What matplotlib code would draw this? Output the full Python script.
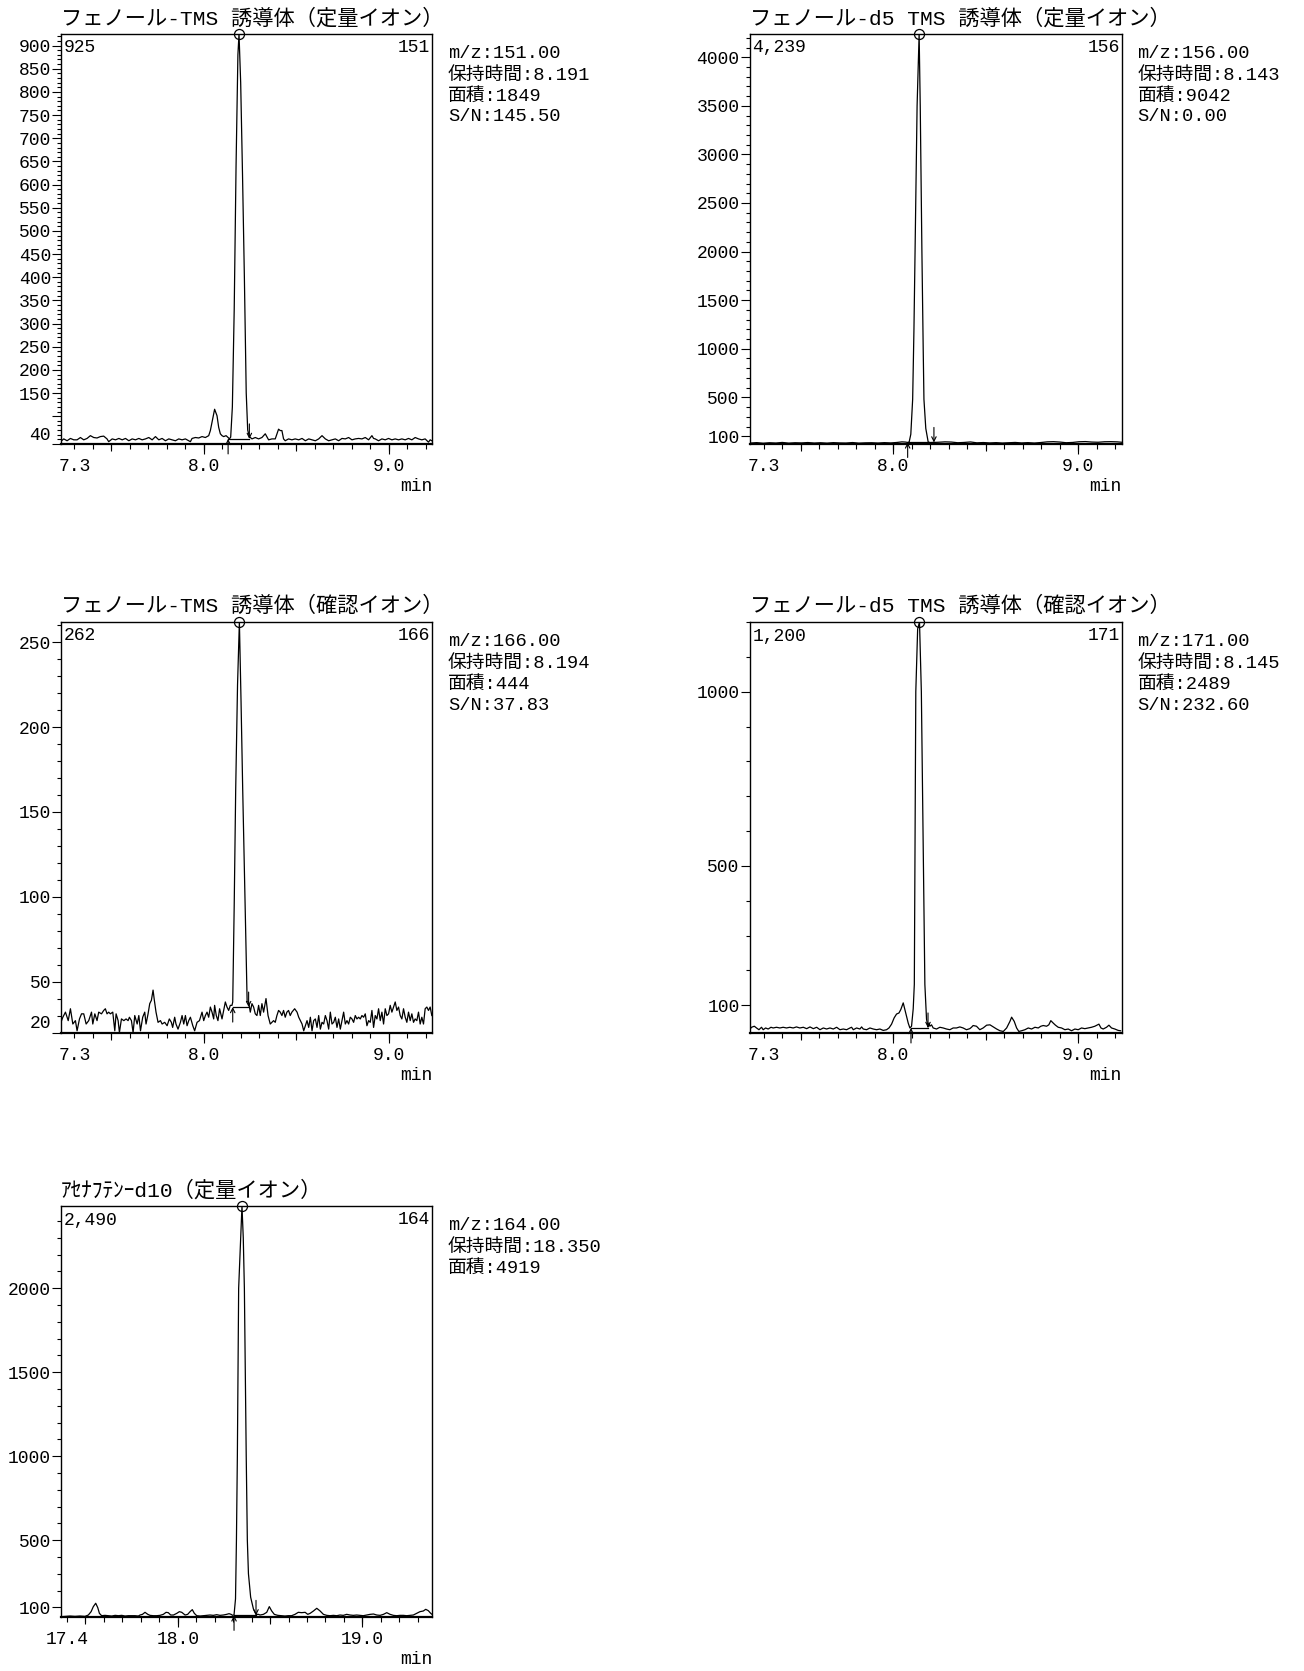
import matplotlib
matplotlib.use("Agg")
import matplotlib.pyplot as plt
from matplotlib.ticker import MultipleLocator

plt.rcParams["font.family"] = ["Liberation Mono", "Noto Sans CJK JP"]
plt.rcParams["axes.unicode_minus"] = False

FIG_W, FIG_H, DPI = 1304, 1671, 100

# ---------------------------------------------------------------- panel 1
p1_title = "フェノール-TMS 誘導体（定量イオン）"
p1_mz = "151"
p1_info = ["m/z:151.00", "保持時間:8.191", "面積:1849", "S/N:145.50"]
p1_time = [7.231, 7.243, 7.261, 7.279, 7.297, 7.315, 7.333, 7.351, 7.369, 7.387,
           7.405, 7.423, 7.441, 7.459, 7.477, 7.486, 7.505, 7.523, 7.541, 7.559,
           7.577, 7.595, 7.613, 7.631, 7.649, 7.667, 7.685, 7.703, 7.721, 7.739,
           7.757, 7.775, 7.793, 7.811, 7.829, 7.847, 7.865, 7.883, 7.901, 7.919,
           7.928, 7.937, 7.955, 7.973, 7.991, 8.009, 8.027, 8.036, 8.045, 8.059,
           8.072, 8.081, 8.090, 8.099, 8.108, 8.121, 8.132, 8.139, 8.146, 8.155,
           8.165, 8.175, 8.185, 8.191, 8.200, 8.210, 8.220, 8.230, 8.238, 8.247,
           8.261, 8.279, 8.297, 8.315, 8.333, 8.351, 8.369, 8.387, 8.405, 8.414,
           8.423, 8.432, 8.441, 8.459, 8.477, 8.495, 8.514, 8.532, 8.550, 8.568,
           8.586, 8.604, 8.622, 8.640, 8.658, 8.676, 8.694, 8.712, 8.730, 8.748,
           8.766, 8.784, 8.802, 8.820, 8.838, 8.856, 8.874, 8.892, 8.910, 8.919,
           8.928, 8.946, 8.964, 8.982, 9.000, 9.018, 9.036, 9.054, 9.072, 9.090,
           9.108, 9.126, 9.144, 9.162, 9.180, 9.198, 9.216, 9.225, 9.234]
p1_abund = [47, 51, 47, 52, 49, 49, 54, 49, 52, 58,
            54, 53, 56, 57, 51, 45, 51, 49, 52, 49,
            52, 47, 51, 49, 52, 49, 51, 54, 49, 56,
            49, 52, 47, 51, 49, 47, 51, 49, 51, 47,
            45, 52, 54, 53, 56, 54, 58, 69, 87, 115,
            101, 76, 62, 58, 56, 58, 54, 51, 55, 120,
            330, 640, 880, 925, 820, 620, 400, 150, 70, 56,
            51, 54, 51, 54, 62, 49, 51, 51, 72, 69,
            69, 51, 47, 51, 49, 51, 49, 52, 47, 51,
            49, 47, 51, 58, 51, 47, 49, 51, 47, 52,
            51, 54, 49, 51, 52, 51, 54, 49, 58, 52,
            51, 47, 51, 49, 52, 49, 51, 49, 51, 49,
            52, 49, 54, 51, 49, 51, 44, 49, 47]
p1_peak = (8.132, 8.247, 51)          # integration start, end, baseline level
p1_xlim = (7.228, 9.235)
p1_ylim = (40, 925)
p1_yticks = [40, 100, 150, 200, 250, 300, 350, 400, 450, 500, 550, 600, 650, 700, 750, 800, 850, 900]
p1_yticklabels = ["40", "", "150", "200", "250", "300", "350", "400", "450", "500",
                  "550", "600", "650", "700", "750", "800", "850", "900"]
p1_yminor = 10

# ---------------------------------------------------------------- panel 2
p2_title = "フェノール-d5 TMS 誘導体（定量イオン）"
p2_mz = "156"
p2_info = ["m/z:156.00", "保持時間:8.143", "面積:9042", "S/N:0.00"]
p2_time = [7.228, 7.262, 7.297, 7.331, 7.366, 7.400, 7.435, 7.469, 7.504, 7.538,
           7.573, 7.607, 7.642, 7.676, 7.711, 7.745, 7.780, 7.814, 7.849, 7.883,
           7.918, 7.952, 7.987, 8.021, 8.047, 8.066, 8.078, 8.086, 8.095, 8.105,
           8.112, 8.118, 8.129, 8.140, 8.146, 8.155, 8.162, 8.166, 8.176, 8.189,
           8.200, 8.220, 8.245, 8.280, 8.314, 8.349, 8.383, 8.418, 8.452, 8.487,
           8.521, 8.556, 8.590, 8.625, 8.659, 8.694, 8.728, 8.763, 8.797, 8.832,
           8.866, 8.901, 8.935, 8.970, 9.004, 9.039, 9.073, 9.108, 9.142, 9.177,
           9.211, 9.235]
p2_abund = [30, 34, 28, 33, 30, 36, 29, 33, 31, 35,
            30, 33, 29, 34, 31, 30, 35, 29, 32, 33,
            30, 34, 31, 36, 42, 40, 36, 40, 120, 480,
            1200, 2000, 3500, 4239, 3500, 2000, 1000, 480, 180, 40,
            34, 36, 38, 42, 40, 33, 36, 41, 32, 35,
            31, 34, 30, 33, 36, 31, 34, 30, 35, 42,
            44, 40, 33, 36, 43, 45, 40, 38, 43, 44,
            42, 38]
p2_peak = (8.078, 8.220, 36)
p2_xlim = (7.223, 9.234)
p2_ylim = (20, 4239)
p2_yticks = [100, 500, 1000, 1500, 2000, 2500, 3000, 3500, 4000]
p2_yticklabels = ["100", "500", "1000", "1500", "2000", "2500", "3000", "3500", "4000"]
p2_yminor = 100

# ---------------------------------------------------------------- panel 3
p3_title = "フェノール-TMS 誘導体（確認イオン）"
p3_mz = "166"
p3_info = ["m/z:166.00", "保持時間:8.194", "面積:444", "S/N:37.83"]
p3_time = [7.231, 7.238, 7.252, 7.267, 7.279, 7.292, 7.306, 7.315, 7.328, 7.339,
           7.351, 7.364, 7.378, 7.393, 7.400, 7.411, 7.423, 7.432, 7.447, 7.459,
           7.468, 7.477, 7.486, 7.495, 7.508, 7.519, 7.526, 7.537, 7.544, 7.555,
           7.568, 7.580, 7.591, 7.598, 7.609, 7.618, 7.627, 7.640, 7.649, 7.658,
           7.670, 7.681, 7.688, 7.699, 7.708, 7.717, 7.726, 7.733, 7.742, 7.753,
           7.766, 7.775, 7.789, 7.802, 7.814, 7.825, 7.832, 7.843, 7.850, 7.861,
           7.874, 7.883, 7.892, 7.901, 7.910, 7.919, 7.928, 7.941, 7.951, 7.964,
           7.977, 7.991, 8.000, 8.009, 8.018, 8.027, 8.036, 8.045, 8.054, 8.059,
           8.068, 8.077, 8.086, 8.099, 8.108, 8.117, 8.126, 8.135, 8.144, 8.153,
           8.157, 8.165, 8.173, 8.183, 8.193, 8.202, 8.211, 8.223, 8.235, 8.243,
           8.252, 8.261, 8.270, 8.279, 8.288, 8.297, 8.306, 8.315, 8.324, 8.337,
           8.348, 8.360, 8.369, 8.378, 8.387, 8.396, 8.405, 8.414, 8.423, 8.432,
           8.441, 8.450, 8.459, 8.468, 8.477, 8.492, 8.505, 8.514, 8.523, 8.532,
           8.541, 8.550, 8.559, 8.568, 8.577, 8.586, 8.595, 8.604, 8.613, 8.622,
           8.631, 8.640, 8.649, 8.658, 8.667, 8.676, 8.685, 8.694, 8.703, 8.712,
           8.721, 8.730, 8.739, 8.748, 8.757, 8.766, 8.775, 8.784, 8.793, 8.802,
           8.811, 8.820, 8.829, 8.838, 8.847, 8.856, 8.865, 8.874, 8.883, 8.892,
           8.901, 8.910, 8.919, 8.928, 8.937, 8.946, 8.955, 8.964, 8.973, 8.982,
           8.991, 9.000, 9.009, 9.018, 9.027, 9.036, 9.045, 9.054, 9.063, 9.072,
           9.081, 9.090, 9.099, 9.108, 9.117, 9.126, 9.135, 9.144, 9.153, 9.162,
           9.171, 9.180, 9.189, 9.198, 9.207, 9.216, 9.225, 9.234]
p3_abund = [27, 29, 32, 27, 34, 25, 27, 21, 28, 31,
            31, 25, 27, 32, 25, 31, 27, 32, 31, 33,
            34, 31, 32, 31, 32, 21, 31, 27, 20, 28,
            27, 28, 27, 29, 27, 20, 30, 25, 30, 21,
            29, 32, 25, 31, 37, 39, 45, 39, 32, 26,
            27, 25, 26, 24, 28, 26, 23, 29, 25, 22,
            26, 30, 25, 30, 24, 27, 29, 24, 21, 26,
            27, 32, 27, 30, 32, 29, 35, 32, 28, 36,
            30, 27, 34, 28, 33, 38, 35, 33, 36, 36,
            38, 95, 163, 225, 262, 215, 163, 100, 38, 38,
            32, 37, 35, 31, 30, 36, 30, 37, 32, 40,
            30, 25, 26, 27, 26, 30, 33, 32, 30, 33,
            29, 32, 33, 30, 32, 34, 32, 29, 27, 25,
            21, 24, 27, 23, 29, 21, 27, 28, 23, 30,
            22, 26, 25, 30, 27, 22, 32, 25, 26, 29,
            23, 28, 22, 27, 32, 25, 27, 25, 29, 28,
            26, 30, 28, 29, 28, 30, 29, 31, 24, 27,
            26, 33, 23, 30, 28, 34, 27, 32, 25, 34,
            30, 31, 36, 32, 35, 38, 33, 35, 30, 28,
            34, 29, 26, 32, 27, 31, 26, 28, 27, 32,
            25, 29, 25, 34, 35, 33, 35, 30]
p3_peak = (8.157, 8.243, 35)
p3_xlim = (7.228, 9.235)
p3_ylim = (20, 262)
p3_yticks = [20, 50, 100, 150, 200, 250]
p3_yticklabels = ["20", "50", "100", "150", "200", "250"]
p3_yminor = 10

# ---------------------------------------------------------------- panel 4
p4_title = "フェノール-d5 TMS 誘導体（確認イオン）"
p4_mz = "171"
p4_info = ["m/z:171.00", "保持時間:8.145", "面積:2489", "S/N:232.60"]
p4_time = [7.223, 7.234, 7.249, 7.261, 7.274, 7.288, 7.297, 7.310, 7.324, 7.339,
           7.351, 7.369, 7.387, 7.405, 7.423, 7.441, 7.459, 7.477, 7.495, 7.514,
           7.532, 7.550, 7.568, 7.586, 7.604, 7.622, 7.640, 7.658, 7.676, 7.694,
           7.712, 7.730, 7.748, 7.766, 7.775, 7.784, 7.802, 7.820, 7.829, 7.838,
           7.856, 7.874, 7.892, 7.910, 7.928, 7.946, 7.964, 7.977, 7.991, 8.005,
           8.018, 8.031, 8.041, 8.054, 8.063, 8.072, 8.081, 8.090, 8.099, 8.108,
           8.114, 8.122, 8.132, 8.142, 8.152, 8.162, 8.171, 8.180, 8.188, 8.193,
           8.198, 8.207, 8.216, 8.234, 8.252, 8.270, 8.288, 8.306, 8.324, 8.342,
           8.360, 8.378, 8.396, 8.414, 8.423, 8.432, 8.450, 8.468, 8.486, 8.505,
           8.523, 8.541, 8.559, 8.577, 8.595, 8.613, 8.631, 8.640, 8.654, 8.667,
           8.679, 8.694, 8.712, 8.730, 8.748, 8.766, 8.784, 8.798, 8.811, 8.829,
           8.841, 8.852, 8.865, 8.877, 8.892, 8.910, 8.928, 8.946, 8.964, 8.982,
           9.000, 9.018, 9.036, 9.054, 9.072, 9.090, 9.105, 9.112, 9.123, 9.135,
           9.153, 9.166, 9.180, 9.198, 9.216, 9.229]
p4_abund = [30, 37, 40, 35, 30, 37, 30, 35, 32, 37,
            35, 37, 35, 37, 35, 37, 35, 38, 35, 37,
            33, 38, 33, 37, 30, 35, 32, 35, 32, 37,
            30, 32, 30, 35, 37, 30, 35, 32, 38, 32,
            30, 35, 32, 30, 32, 28, 30, 35, 46, 64,
            75, 78, 88, 107, 88, 68, 49, 35, 40, 90,
            160, 1000, 1180, 1200, 1000, 560, 160, 60, 38, 49,
            40, 44, 35, 32, 37, 35, 32, 30, 35, 35,
            38, 35, 30, 33, 37, 42, 40, 30, 35, 43,
            44, 38, 32, 27, 25, 35, 54, 66, 54, 35,
            25, 27, 30, 35, 32, 37, 35, 40, 42, 40,
            44, 56, 49, 43, 37, 35, 30, 32, 27, 32,
            30, 35, 33, 35, 37, 40, 44, 46, 35, 32,
            37, 43, 35, 32, 28, 27]
p4_peak = (8.096, 8.188, 35)
p4_xlim = (7.223, 9.234)
p4_ylim = (22, 1200)
p4_yticks = [100, 500, 1000]
p4_yticklabels = ["100", "500", "1000"]
p4_yminor = 100

# ---------------------------------------------------------------- panel 5
p5_title = "ｱｾﾅﾌﾃﾝｰd10（定量イオン）"
p5_mz = "164"
p5_info = ["m/z:164.00", "保持時間:18.350", "面積:4919"]
p5_time = [17.368, 17.390, 17.417, 17.444, 17.471, 17.498, 17.516, 17.531, 17.543, 17.556,
           17.567, 17.576, 17.588, 17.606, 17.625, 17.643, 17.661, 17.679, 17.697, 17.715,
           17.733, 17.751, 17.769, 17.787, 17.796, 17.809, 17.823, 17.838, 17.850, 17.868,
           17.886, 17.904, 17.922, 17.937, 17.949, 17.962, 17.977, 17.995, 18.009, 18.022,
           18.040, 18.054, 18.067, 18.079, 18.090, 18.103, 18.121, 18.139, 18.157, 18.175,
           18.193, 18.211, 18.229, 18.247, 18.265, 18.278, 18.289, 18.298, 18.305, 18.313,
           18.318, 18.323, 18.330, 18.348, 18.355, 18.361, 18.371, 18.377, 18.383, 18.395,
           18.410, 18.424, 18.437, 18.446, 18.464, 18.482, 18.496, 18.509, 18.523, 18.542,
           18.563, 18.581, 18.599, 18.617, 18.635, 18.653, 18.671, 18.690, 18.704, 18.717,
           18.735, 18.753, 18.771, 18.789, 18.807, 18.825, 18.843, 18.861, 18.879, 18.897,
           18.915, 18.933, 18.951, 18.969, 18.987, 19.005, 19.023, 19.042, 19.060, 19.078,
           19.096, 19.114, 19.132, 19.150, 19.168, 19.186, 19.204, 19.222, 19.240, 19.258,
           19.276, 19.294, 19.312, 19.330, 19.343, 19.357, 19.370, 19.377]
p5_abund = [44, 46, 48, 46, 48, 46, 54, 74, 104, 124,
            98, 64, 50, 52, 50, 48, 52, 50, 52, 48,
            50, 50, 50, 48, 54, 58, 70, 58, 52, 50,
            50, 52, 58, 70, 68, 54, 54, 64, 74, 70,
            54, 58, 74, 86, 64, 50, 48, 50, 52, 54,
            52, 56, 52, 54, 58, 62, 58, 52, 55, 150,
            500, 1000, 2000, 2490, 2300, 2000, 1000, 500, 300, 160,
            90, 58, 58, 54, 58, 70, 104, 78, 58, 52,
            50, 48, 50, 50, 58, 70, 68, 70, 58, 64,
            78, 94, 78, 58, 52, 50, 52, 50, 54, 52,
            58, 54, 52, 54, 52, 50, 54, 58, 60, 54,
            52, 58, 68, 58, 52, 50, 52, 52, 50, 52,
            54, 64, 74, 78, 88, 80, 64, 58]
p5_peak = (18.305, 18.424, 52)
p5_xlim = (17.368, 19.377)
p5_ylim = (44, 2490)
p5_yticks = [100, 500, 1000, 1500, 2000]
p5_yticklabels = ["100", "500", "1000", "1500", "2000"]
p5_yminor = 100

x_labels_a = [7.3, 8.0, 9.0]
x_labels_b = [17.4, 18.0, 19.0]


def pt(pixels):
    """Convert a length in output pixels to points."""
    return pixels * 72.0 / DPI


fig = plt.figure(figsize=(FIG_W / DPI, FIG_H / DPI), dpi=DPI)
fig.patch.set_facecolor("white")


def make_axes(left, top, width, height):
    return fig.add_axes([left / FIG_W, 1 - (top + height) / FIG_H,
                         width / FIG_W, height / FIG_H])


def draw_panel(ax, title, mz, info, time, abund, peak, xlim, ylim,
               yticks, yticklabels, yminor, xlabels, low_label_on_axis):
    ax.set_xlim(*xlim)
    ax.set_ylim(*ylim)

    # chromatogram trace
    ax.plot(time, abund, color="black", lw=0.9, solid_joinstyle="round")

    # integration baseline with start / end markers
    t0, t1, base = peak
    ax.plot([t0, t1], [base, base], color="black", lw=0.9)
    arrow = dict(arrowstyle="->", lw=0.8, color="black",
                 shrinkA=0, shrinkB=0, mutation_scale=8)
    ax.annotate("", xy=(t0, base), xytext=(0, -15), textcoords="offset pixels",
                arrowprops=arrow, annotation_clip=False)
    ax.annotate("", xy=(t1, base), xytext=(0, 15), textcoords="offset pixels",
                arrowprops=arrow, annotation_clip=False)

    # apex marker
    top = max(abund)
    t_top = time[abund.index(top)]
    ax.plot([t_top], [top], marker="o", ms=pt(10), mfc="none", mec="black",
            mew=0.9, clip_on=False, zorder=6)

    # frame
    for side in ("left", "right", "top"):
        ax.spines[side].set_linewidth(1.0)
    ax.spines["bottom"].set_linewidth(1.6)

    # x ticks: labels only on the major locator, marks in three lengths
    ax.set_xticks(xlabels, [f"{v:.1f}" for v in xlabels])
    ax.tick_params(axis="x", which="major", length=0, pad=pt(14), labelsize=13)
    ax.xaxis.set_minor_locator(MultipleLocator(0.1))
    ax.xaxis.remove_overlapping_locs = False
    ax.tick_params(axis="x", which="minor", length=pt(4.5), width=0.8, direction="out")
    for step, length in ((0.5, 7), (1.0, 10)):
        sec = ax.secondary_xaxis("bottom")
        sec.xaxis.set_major_locator(MultipleLocator(step))
        sec.tick_params(length=pt(length), width=0.8, labelbottom=False)
        sec.spines["bottom"].set_visible(False)

    # y ticks
    ax.set_yticks(yticks, yticklabels)
    ax.yaxis.set_minor_locator(MultipleLocator(yminor))
    ax.tick_params(axis="y", which="major", length=pt(9), width=0.8, pad=pt(1), labelsize=13)
    ax.tick_params(axis="y", which="minor", length=pt(4), width=0.8)
    if low_label_on_axis:
        ax.get_yticklabels()[0].set_verticalalignment("bottom")

    # annotations
    ax.annotate(title, xy=(0, 1), xycoords="axes fraction", xytext=(0, 16),
                textcoords="offset pixels", ha="left", va="center", fontsize=15.3)
    ax.annotate(f"{top:,}", xy=(0, 1), xycoords="axes fraction", xytext=(3, -14),
                textcoords="offset pixels", ha="left", va="center", fontsize=13)
    ax.annotate(mz, xy=(1, 1), xycoords="axes fraction", xytext=(-2, -14),
                textcoords="offset pixels", ha="right", va="center", fontsize=13)
    for i, line in enumerate(info):
        ax.annotate(line, xy=(1, 1), xycoords="axes fraction",
                    xytext=(16, -20 - 21 * i), textcoords="offset pixels",
                    ha="left", va="center", fontsize=13.5)
    ax.annotate("min", xy=(1, 0), xycoords="axes fraction", xytext=(0, -43),
                textcoords="offset pixels", ha="right", va="center", fontsize=13)


ax1 = make_axes(61, 34, 371, 410)
ax2 = make_axes(749.5, 34, 372, 410)
ax3 = make_axes(61, 622, 371, 410.5)
ax4 = make_axes(749.5, 622, 372, 410.5)
ax5 = make_axes(61, 1206, 371, 410.7)

draw_panel(ax1, p1_title, p1_mz, p1_info, p1_time, p1_abund, p1_peak, p1_xlim, p1_ylim,
           p1_yticks, p1_yticklabels, p1_yminor, x_labels_a, True)
draw_panel(ax2, p2_title, p2_mz, p2_info, p2_time, p2_abund, p2_peak, p2_xlim, p2_ylim,
           p2_yticks, p2_yticklabels, p2_yminor, x_labels_a, False)
draw_panel(ax3, p3_title, p3_mz, p3_info, p3_time, p3_abund, p3_peak, p3_xlim, p3_ylim,
           p3_yticks, p3_yticklabels, p3_yminor, x_labels_a, True)
draw_panel(ax4, p4_title, p4_mz, p4_info, p4_time, p4_abund, p4_peak, p4_xlim, p4_ylim,
           p4_yticks, p4_yticklabels, p4_yminor, x_labels_a, False)
draw_panel(ax5, p5_title, p5_mz, p5_info, p5_time, p5_abund, p5_peak, p5_xlim, p5_ylim,
           p5_yticks, p5_yticklabels, p5_yminor, x_labels_b, False)

fig.savefig("out.png", dpi=DPI, facecolor="white")
